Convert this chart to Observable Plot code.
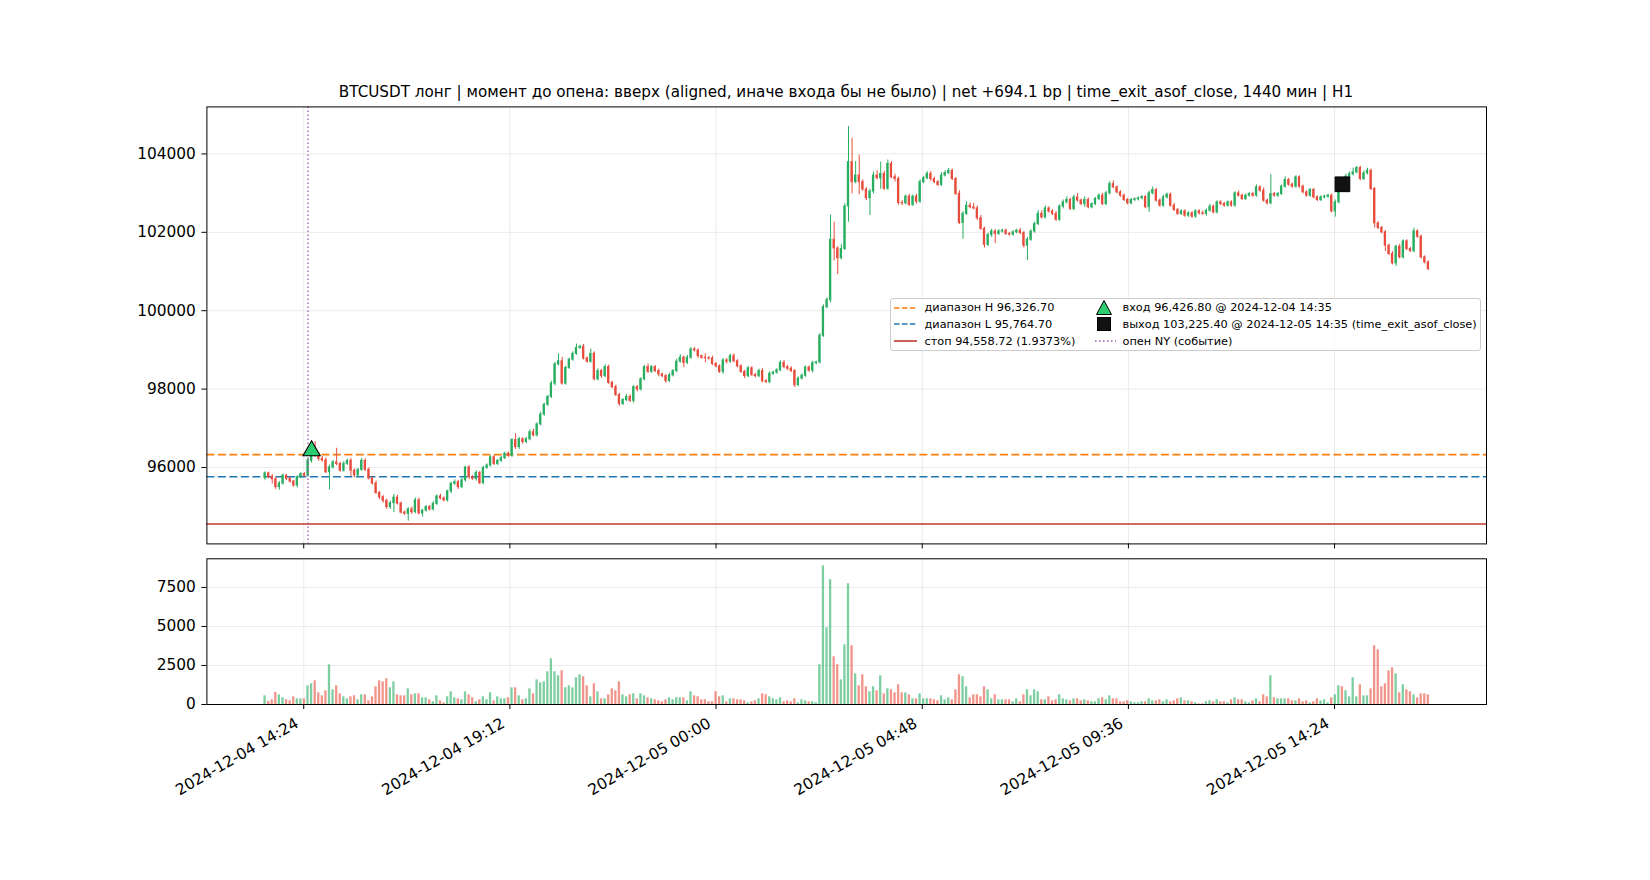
<!DOCTYPE html>
<html><head><meta charset="utf-8">
<script src="https://cdn.jsdelivr.net/npm/d3@7"></script>
<script src="https://cdn.jsdelivr.net/npm/@observablehq/plot@0.6"></script>
<style>
body{margin:0;background:#fff;}
#wrap{position:relative;width:1650px;height:880px;background:#fff;font-family:"DejaVu Sans",sans-serif;color:#000;overflow:hidden;}
#wrap svg.plotsvg{position:absolute;left:0;}
#title{position:absolute;left:0;width:1692px;top:83px;text-align:center;font-size:15.2px;line-height:19px;white-space:nowrap;}
#legend{position:absolute;left:890px;top:298px;width:591px;height:53px;box-sizing:border-box;border:1px solid #cccccc;border-radius:3px;background:rgba(255,255,255,0.8);font-size:11.3px;}
#legend .it{position:absolute;white-space:nowrap;line-height:13px;}
#legend svg{position:absolute;}
</style>
</head><body>
<div id="wrap">
  <div id="title"></div>
  <div id="legend"></div>
</div>
<script>
// ---------------- data ----------------
const titleText = "BTCUSDT лонг | момент до опена: вверх (aligned, иначе входа бы не было) | net +694.1 bp | time_exit_asof_close, 1440 мин | H1";
const startLabel = "2024-12-04 13:30";   // first 5-minute candle
const stepMinutes = 5;
const firstOpen = 95730;

const closes = [
95850,95760,95700,95500,95590,95790,95710,95640,95540,95750,95830,95790,
96170,96430,96300,96220,96180,95880,96000,96130,96090,95920,96090,96170,
95920,95800,95940,96170,95940,95720,95590,95350,95240,95150,94990,95090,
95230,95080,94850,94820,94930,94860,95160,94830,94900,94990,94930,95070,
95260,95210,95160,95390,95585,95625,95500,95670,96000,95750,95710,95860,
95600,95990,96050,96260,96090,96170,96240,96350,96300,96700,96520,96720,
96650,96720,96900,96820,97100,97350,97600,97800,98140,98630,98710,98140,
98540,98750,98900,99050,99080,98780,98700,98900,98250,98460,98330,98560,
98160,98050,97850,97620,97720,97800,97700,98050,97990,98250,98560,98440,
98560,98460,98375,98330,98206,98350,98460,98700,98800,98670,98800,99010,
98985,98840,98800,98790,98780,98640,98580,98440,98730,98700,98840,98710,
98580,98440,98330,98530,98360,98330,98460,98200,98180,98390,98420,98480,
98670,98560,98520,98460,98100,98270,98340,98550,98470,98660,98680,99360,
100090,100270,101810,101590,101340,101575,102660,103790,103280,103450,103280,103090,
102870,103040,103450,103380,103490,103110,103745,103405,103360,102750,102740,102910,
102700,102910,102780,103280,103380,103490,103360,103280,103210,103450,103510,103570,
103360,102980,102240,102470,102680,102640,102610,102360,102090,101680,101930,102020,
101960,102020,102040,101960,101940,102000,102040,101980,101660,101810,102020,102210,
102470,102380,102610,102530,102470,102320,102660,102765,102825,102595,102890,102810,
102720,102825,102640,102720,102850,102935,102720,102995,103230,103150,103020,102935,
102825,102740,102825,102840,102870,102900,102640,102995,103080,102810,102680,102890,
102960,102680,102570,102470,102535,102425,102485,102400,102535,102484,102470,102552,
102654,102509,102765,102722,102680,102765,102680,102994,102935,102850,102935,102977,
102935,103148,103063,102807,102739,102977,102935,102977,103165,103335,103216,103165,
103403,103165,103020,102935,103080,102892,102824,102892,102909,102935,102535,102765,
103225,103130,103420,103480,103530,103641,103360,103505,103573,103105,102229,102110,
102000,101659,101446,101207,101633,101360,101769,101573,101520,102024,101888,101360,
101233,101063];

// upper / lower wick length above / below the body (USD)
const wickUp = [
40,30,60,40,50,40,30,40,30,40,40,40,
80,170,230,80,60,60,60,50,360,40,60,40,
60,40,30,60,50,50,40,60,40,40,40,50,
80,60,40,40,50,60,60,60,30,40,40,60,
40,60,40,30,40,60,40,60,30,50,40,60,
40,40,40,40,40,30,40,40,40,40,160,50,
40,50,60,80,40,60,40,40,60,50,190,100,
40,40,50,100,40,60,40,120,50,60,40,60,
50,40,50,40,40,60,50,40,40,40,40,80,
40,40,50,30,40,50,40,60,80,40,60,50,
50,40,30,100,40,60,40,40,50,50,50,60,
40,40,40,50,40,40,50,60,40,50,40,40,
50,60,50,50,40,40,50,40,40,50,30,60,
60,60,630,450,40,120,70,910,610,360,520,60,
50,60,90,120,300,70,100,60,80,50,60,40,
60,40,60,60,50,60,60,50,40,70,60,60,
40,40,80,60,100,70,100,60,70,40,50,60,
50,50,40,40,40,40,40,60,40,60,40,50,
80,80,60,40,50,60,40,60,80,40,60,100,
40,80,50,30,40,40,60,50,60,80,30,40,
40,40,40,40,30,40,40,60,80,40,40,60,
40,40,60,40,40,40,40,40,40,40,60,40,
60,40,40,40,40,40,40,40,60,40,40,40,
40,60,40,70,40,500,40,40,40,80,40,40,
40,40,40,40,40,40,40,40,40,40,40,60,
80,80,60,60,110,40,40,60,60,40,40,40,
40,40,40,60,40,60,40,40,40,80,40,40,
40,40];
const wickDn = [
60,50,120,60,80,40,40,40,40,60,40,40,
40,60,40,60,40,40,450,40,50,40,40,40,
150,60,40,40,40,40,40,40,60,60,60,60,
240,40,40,40,190,60,40,40,100,40,40,40,
40,40,40,40,60,40,60,40,40,60,40,60,
40,40,40,40,40,40,40,40,40,40,60,60,
60,40,40,40,40,40,40,40,40,60,40,40,
40,40,40,40,40,40,40,40,40,40,60,40,
40,40,40,60,40,40,40,60,60,40,40,40,
40,40,60,40,60,40,40,40,40,120,40,40,
40,60,40,120,40,40,40,40,60,60,40,40,
40,40,60,40,40,40,40,40,40,40,40,40,
40,40,50,40,60,40,40,40,40,60,40,40,
40,40,70,320,420,40,40,400,300,40,320,40,
60,440,60,40,280,40,40,40,80,60,60,40,
40,40,60,40,40,40,60,40,40,40,40,40,
40,40,40,420,40,40,40,60,40,80,40,60,
250,40,40,40,40,40,40,40,60,380,40,40,
40,40,40,40,40,40,40,60,40,40,40,40,
40,80,40,40,40,40,40,40,40,40,40,40,
40,40,40,40,40,40,40,130,40,40,40,40,
40,40,40,40,40,40,40,40,40,40,40,60,
40,40,40,40,40,40,40,40,40,40,40,40,
40,40,40,40,40,40,40,40,40,40,40,40,
40,40,40,40,40,40,40,40,40,40,40,150,
40,40,40,40,40,40,40,40,40,40,120,40,
40,150,40,40,80,40,40,40,40,40,40,40,
40,40];
const volumes = [
556,192,300,770,620,427,300,235,490,363,363,363,
1197,1325,1517,748,556,876,2543,940,1197,684,490,363,
490,556,300,620,620,235,490,1133,1517,1453,1645,1069,
1453,620,556,556,1004,620,684,684,427,427,300,171,
556,235,107,490,812,427,363,300,812,620,427,171,
300,490,300,748,235,490,363,363,427,1069,1069,556,
300,363,1004,684,1581,1389,1453,2094,2928,2094,1838,2158,
1069,1197,1069,1710,1902,1774,1197,490,1325,812,363,363,
620,1004,876,1453,620,490,620,684,363,684,556,427,
363,300,235,171,300,427,300,427,427,427,235,812,
556,490,300,300,171,171,812,490,556,171,363,363,
300,300,235,107,171,235,363,684,620,490,363,300,
427,171,235,171,363,107,300,235,171,171,107,2543,
8890,4915,7992,3056,2543,1581,3825,7736,3761,1966,1197,1902,
1133,812,1133,876,1838,684,1004,940,748,1261,748,748,
620,363,363,684,363,363,363,300,235,556,300,427,
300,940,1902,1774,1133,427,620,620,490,1133,940,363,
620,300,300,300,300,171,363,171,620,940,556,940,
812,300,300,490,235,300,620,363,300,235,363,363,
235,300,235,171,171,363,427,300,556,363,363,171,
171,235,171,107,107,171,171,363,235,235,300,171,
300,171,235,363,427,235,235,171,107,43,43,171,
235,171,300,171,171,107,300,427,300,300,171,107,
235,363,171,620,490,1838,427,363,363,363,363,235,
235,363,171,235,107,171,363,235,300,107,427,620,
1197,1133,876,490,1710,490,1261,556,556,1004,3761,3505,
1133,1325,2158,2351,1966,748,1261,940,812,620,427,684,
684,620];

const rangeH = 96326.70, rangeL = 95764.70, stopPrice = 94558.72;
const entryLabel = "2024-12-04 14:35", entryPrice = 96426.80;
const exitLabel = "2024-12-05 14:35", exitPrice = 103225.40;
const nyOpenLabel = "2024-12-04 14:30";
const tickLabels = ["2024-12-04 14:24","2024-12-04 19:12","2024-12-05 00:00","2024-12-05 04:48","2024-12-05 09:36","2024-12-05 14:24"];
const priceTicks = [96000, 98000, 100000, 102000, 104000];
const volTicks = [0, 2500, 5000, 7500];
const xDomainLabels = ["2024-12-04 12:08:45", "2024-12-05 17:56:15"];
const priceDomain = [94050, 105200];
const volDomain = [0, 9335];
const legendItems = [
  {kind:"dash", color:"#ff7f0e", text:"диапазон H 96,326.70"},
  {kind:"dash", color:"#1f77b4", text:"диапазон L 95,764.70"},
  {kind:"solid", color:"#c0392b", text:"стоп 94,558.72 (1.9373%)"},
  {kind:"tri", color:"#2ecc71", text:"вход 96,426.80 @ 2024-12-04 14:35"},
  {kind:"sq", color:"#111111", text:"выход 103,225.40 @ 2024-12-05 14:35 (time_exit_asof_close)"},
  {kind:"dot", color:"#9b59b6", text:"опен NY (событие)"}
];

// ---------------- build ----------------
const GREEN = "#27ae60", RED = "#e74c3c";
const parseM = d3.utcParse("%Y-%m-%d %H:%M");
const parseS = d3.utcParse("%Y-%m-%d %H:%M:%S");
const fmtM = d3.utcFormat("%Y-%m-%d %H:%M");
const t0 = parseM(startLabel);
const stepMs = stepMinutes * 60000;
const candles = closes.map((c, i) => {
  const o = i ? closes[i - 1] : firstOpen;
  return {t: new Date(+t0 + i * stepMs), o, c,
          h: Math.max(o, c) + wickUp[i], l: Math.min(o, c) - wickDn[i],
          v: volumes[i], up: c >= o};
});
const ups = candles.filter(d => d.up), downs = candles.filter(d => !d.up);
const half = 0.32 * stepMs;
const x1 = d => new Date(+d.t - half), x2 = d => new Date(+d.t + half);
const tickDates = tickLabels.map(parseM);
const xDomain = xDomainLabels.map(parseS);
const W = 1650;
const font = {fontFamily: "DejaVu Sans", fontSize: "15.4px", color: "#000", background: "transparent", overflow: "visible"};
const GRID = "#ebebeb";

const price = Plot.plot({
  width: W, height: 550,
  marginLeft: 206.4, marginRight: 164, marginTop: 106.4, marginBottom: 6.6,
  style: font,
  x: {type: "utc", domain: xDomain},
  y: {domain: priceDomain},
  marks: [
    Plot.gridX(tickDates, {stroke: GRID, strokeOpacity: 1, strokeWidth: 1}),
    Plot.gridY(priceTicks, {stroke: GRID, strokeOpacity: 1, strokeWidth: 1}),
    Plot.ruleY([rangeH], {stroke: "#ff7f0e", strokeWidth: 1.6, strokeDasharray: "8,3.5"}),
    Plot.ruleY([rangeL], {stroke: "#1f77b4", strokeWidth: 1.6, strokeDasharray: "8,3.5"}),
    Plot.ruleY([stopPrice], {stroke: "#c0392b", strokeWidth: 1.6}),
    Plot.ruleX(ups, {x: "t", y1: "l", y2: "h", stroke: GREEN, strokeWidth: 1}),
    Plot.ruleX(downs, {x: "t", y1: "l", y2: "h", stroke: RED, strokeWidth: 1}),
    Plot.rect(ups, {x1, x2, y1: "o", y2: "c", fill: GREEN, insetTop: -0.5, insetBottom: -0.5}),
    Plot.rect(downs, {x1, x2, y1: "o", y2: "c", fill: RED, insetTop: -0.5, insetBottom: -0.5}),
    Plot.ruleX([parseM(nyOpenLabel)], {stroke: "#9b59b6", strokeWidth: 1.3, strokeDasharray: "1.5,2.5"}),
    Plot.dot([{t: parseM(entryLabel), p: entryPrice}], {x: "t", y: "p", symbol: "triangle", r: 6.4, fill: "#2ecc71", stroke: "#000", strokeWidth: 1.1}),
    Plot.dot([{t: parseM(exitLabel), p: exitPrice}], {x: "t", y: "p", symbol: "square", r: 8.3, fill: "#111111", stroke: "#000", strokeWidth: 1}),
    Plot.axisX({ticks: tickDates, tickSize: 5, tickFormat: () => "", label: null}),
    Plot.axisY({ticks: priceTicks, tickSize: 5, tickPadding: 6, tickFormat: d3.format("d"), label: null, fontSize: 15.4}),
    Plot.frame({stroke: "#000", strokeWidth: 1})
  ]
});

const vol = Plot.plot({
  width: W, height: 330,
  marginLeft: 206.4, marginRight: 164, marginTop: 8.3, marginBottom: 176,
  style: font,
  x: {type: "utc", domain: xDomain},
  y: {domain: volDomain},
  marks: [
    Plot.gridX(tickDates, {stroke: GRID, strokeOpacity: 1, strokeWidth: 1}),
    Plot.gridY(volTicks, {stroke: GRID, strokeOpacity: 1, strokeWidth: 1}),
    Plot.rect(ups, {x1, x2, y1: 0, y2: "v", fill: GREEN, fillOpacity: 0.6}),
    Plot.rect(downs, {x1, x2, y1: 0, y2: "v", fill: RED, fillOpacity: 0.6}),
    Plot.axisX({ticks: tickDates, tickSize: 5, tickFormat: () => "", label: null}),
    Plot.axisX({ticks: tickDates, tickSize: 0, tickPadding: 9, tickRotate: -30, tickFormat: fmtM, label: null, fontSize: 15.4, dx: -6.5, dy: 8.5}),
    Plot.axisY({ticks: volTicks, tickSize: 5, tickPadding: 6, tickFormat: d3.format("d"), label: null, fontSize: 15.4}),
    Plot.frame({stroke: "#000", strokeWidth: 1})
  ]
});

const wrap = document.getElementById("wrap");
price.classList.add("plotsvg"); price.style.top = "0px";
vol.classList.add("plotsvg"); vol.style.top = "550px";
wrap.insertBefore(vol, wrap.firstChild);
wrap.insertBefore(price, wrap.firstChild);
document.getElementById("title").textContent = titleText;

// legend
const lg = document.getElementById("legend");
const rowsY = [9.5, 26.3, 43.2];
legendItems.forEach((it, k) => {
  const col = k < 3 ? 0 : 1, row = k % 3;
  const cy = rowsY[row];
  const ns = "http://www.w3.org/2000/svg";
  const s = document.createElementNS(ns, "svg");
  s.setAttribute("width", 30); s.setAttribute("height", 18);
  const sx = col === 0 ? 2 : 198;
  s.style.left = sx + "px"; s.style.top = (cy - 9 - 1) + "px";
  let el;
  if (it.kind === "dash" || it.kind === "solid" || it.kind === "dot") {
    el = document.createElementNS(ns, "line");
    const xa = col === 0 ? 1 : 6, xb = col === 0 ? 24 : 27;
    el.setAttribute("x1", xa); el.setAttribute("x2", xb); el.setAttribute("y1", 9); el.setAttribute("y2", 9);
    el.setAttribute("stroke", it.color);
    el.setAttribute("stroke-width", it.kind === "dot" ? 1.3 : 1.6);
    if (it.kind === "dash") el.setAttribute("stroke-dasharray", "5.5,2.4");
    if (it.kind === "dot") el.setAttribute("stroke-dasharray", "1.5,2.5");
  } else if (it.kind === "tri") {
    el = document.createElementNS(ns, "path");
    el.setAttribute("d", "M15,1.5L22.5,15.5L7.5,15.5Z");
    el.setAttribute("fill", it.color); el.setAttribute("stroke", "#000"); el.setAttribute("stroke-width", 1);
  } else {
    el = document.createElementNS(ns, "rect");
    el.setAttribute("x", 8.5); el.setAttribute("y", 2.5); el.setAttribute("width", 13); el.setAttribute("height", 13);
    el.setAttribute("fill", it.color); el.setAttribute("stroke", "#000");
  }
  s.appendChild(el);
  lg.appendChild(s);
  const d = document.createElement("div");
  d.className = "it";
  d.textContent = it.text;
  d.style.left = (col === 0 ? 33.5 : 231.5) + "px";
  d.style.top = (cy - 6.5 - 1) + "px";
  lg.appendChild(d);
});
</script>
</body></html>
